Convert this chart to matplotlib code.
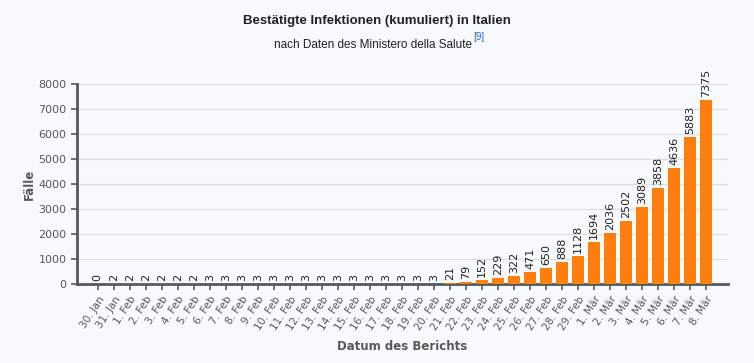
import matplotlib
matplotlib.use("Agg")
import matplotlib.pyplot as plt
import numpy as np

# Bestätigte Infektionen (kumuliert) in Italien
dates = ["30. Jan", "31. Jan"] + ["%d. Feb" % d for d in range(1, 30)] + ["%d. Mär" % d for d in range(1, 9)]
cases = [0, 2, 2, 2, 2, 2, 2,
         3, 3, 3, 3, 3, 3, 3, 3, 3, 3, 3, 3, 3, 3, 3,
         21, 79, 152, 229, 322, 471, 650, 888, 1128,
         1694, 2036, 2502, 3089, 3858, 4636, 5883, 7375]

bg = "#f8f9fa"
bar_color = "#ff7f0e"
axis_color = "#54595d"
text_gray = "#54595d"

plt.rcParams['font.family'] = ['DejaVu Sans']

fig = plt.figure(figsize=(7.54, 3.63), dpi=100, facecolor=bg)
ax = fig.add_axes([0.102, 0.2176, 0.8635, 0.551], facecolor=bg)

x = np.arange(len(cases))
ax.bar(x, cases, width=0.75, color=bar_color, zorder=3)

for xi, v in zip(x, cases):
    ax.text(xi, v + 120, str(v), rotation=90, ha="center", va="bottom",
            fontsize=8, color="#222222", zorder=4)

ax.set_xlim(-1.3, len(cases) - 1 + 1.35)
ax.set_ylim(0, 8000)
ax.set_yticks(np.arange(0, 8001, 1000))
ax.yaxis.grid(True, color="#dcdfe2", linewidth=0.9, zorder=0)
ax.set_xticks(x)
ax.set_xticklabels(dates, rotation=57, ha="right", rotation_mode="anchor",
                   fontsize=7.5, color=text_gray)
ax.tick_params(axis="y", labelsize=8, labelcolor=text_gray, color=axis_color,
               length=4, width=1.2)
ax.tick_params(axis="x", color=axis_color, length=4, width=1.2)

for side in ["top", "right"]:
    ax.spines[side].set_visible(False)
for side in ["left", "bottom"]:
    ax.spines[side].set_color(axis_color)
    ax.spines[side].set_linewidth(2)

ax.set_ylabel("Fälle", fontsize=8.5, fontweight="bold", color=text_gray, labelpad=2)
ax.set_xlabel("Datum des Berichts", fontsize=8.5, fontweight="bold", color=text_gray, labelpad=6)

title_font = ['Liberation Sans']
fig.text(0.5, 0.942, "Bestätigte Infektionen (kumuliert) in Italien", ha="center", va="center",
         fontsize=9.5, fontweight="bold", family=title_font, color="#202122")
sub = fig.text(0.495, 0.877, "nach Daten des Ministero della Salute", ha="center", va="center",
               fontsize=8.5, family=title_font, color="#202122")

fig.canvas.draw()
bb = sub.get_window_extent()
fig.text((bb.x1 + 1) / fig.bbox.width, (bb.y1 - 3) / fig.bbox.height, "[9]", ha="left", va="bottom",
         fontsize=7, family=title_font, color="#3366cc")

fig.savefig("out.png", dpi=100, facecolor=bg)
